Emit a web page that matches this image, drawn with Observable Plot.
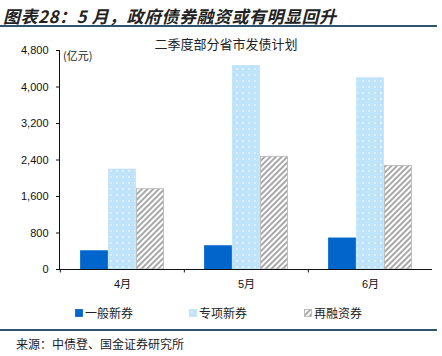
<!DOCTYPE html>
<html>
<head>
<meta charset="utf-8">
<script src="https://cdn.jsdelivr.net/npm/d3@7"></script>
<script src="https://cdn.jsdelivr.net/npm/@observablehq/plot@0.6"></script>
<style>
  html, body { margin: 0; padding: 0; background: #fff; }
  #wrap { position: relative; width: 442px; height: 356px; overflow: hidden; font-family: "Liberation Sans", "Noto Sans CJK SC", sans-serif; }
  .abs { position: absolute; white-space: nowrap; }
  #title { left: 3px; top: 3px; font-size: 17px; font-weight: bold; font-style: italic; color: #222; font-family: "Noto Sans CJK SC", sans-serif; letter-spacing: 0.5px; }
  #line1 { left: 0; top: 25px; width: 437px; height: 2px; background: #2f5470; }
  #subtitle { left: 226px; top: 34px; transform: translateX(-50%); font-size: 13px; color: #222; font-family: "Noto Sans CJK SC", sans-serif; }
  #unit { left: 63px; top: 47px; font-size: 11px; color: #222; font-family: "Noto Sans CJK SC", sans-serif; }
  #chart { left: 0; top: 30px; }
  .leg { top: 304px; font-size: 12px; color: #222; font-family: "Noto Sans CJK SC", sans-serif; display: flex; align-items: center; }
  .leg svg { margin-right: 2px; }
  #line2 { left: 0; top: 329px; width: 437px; height: 2px; background: #2f5470; }
  #source { left: 16px; top: 335px; font-size: 12px; color: #222; font-family: "Noto Sans CJK SC", sans-serif; }
</style>
</head>
<body>
<svg width="0" height="0" style="position:absolute">
  <defs>
    <pattern id="dots" width="6" height="6" patternUnits="userSpaceOnUse">
      <rect width="6" height="6" fill="#bfe3f8"></rect>
      <circle cx="3" cy="3" r="0.8" fill="#ffffff"></circle>
    </pattern>
    <pattern id="hatch" width="4" height="4" patternUnits="userSpaceOnUse" patternTransform="rotate(45)">
      <rect width="4" height="4" fill="#ffffff"></rect>
      <rect width="2" height="4" fill="#a8a8a8"></rect>
    </pattern>
  </defs>
</svg>
<div id="wrap">
  <div id="title" class="abs">图表28：5 月，政府债券融资或有明显回升</div>
  <div id="line1" class="abs"></div>
  <div id="subtitle" class="abs">二季度部分省市发债计划</div>
  <div id="chart" class="abs"></div>
  <div id="unit" class="abs">(亿元)</div>
  <div id="leg0" class="abs leg" style="left:75px"></div>
  <div id="leg1" class="abs leg" style="left:189px"></div>
  <div id="leg2" class="abs leg" style="left:304px"></div>
  <div id="line2" class="abs"></div>
  <div id="source" class="abs">来源：中债登、国金证券研究所</div>
</div>
<script>
const months = ["4月", "5月", "6月"];
const seriesNames = ["一般新券", "专项新券", "再融资券"];
const generalNew = [400, 510, 680];
const specialNew = [2190, 4460, 4190];
const refinancing = [1760, 2470, 2270];
const yTicks = [0, 800, 1600, 2400, 3200, 4000, 4800];

const seriesValues = [generalNew, specialNew, refinancing];
const fills = ["#0066cc", "url(#dots)", "url(#hatch)"];
const strokes = ["#0066cc", "#bfe3f8", "#b4b4b4"];

const W = 442, H = 269, ML = 59, MR = 10, MT = 20, MB = 30;
const bw = (W - ML - MR) / months.length;
const barW = 28;
const inset = (bw - barW) / 2;

const marks = [];
seriesValues.forEach((vals, si) => {
  const data = months.map((m, i) => ({month: m, value: vals[i], series: seriesNames[si]}));
  marks.push(Plot.barY(data, {
    x: "month", y: "value",
    fill: fills[si], stroke: strokes[si], strokeWidth: 0.8,
    insetLeft: inset + 0.4, insetRight: inset + 0.4,
    dx: (si - 1) * barW
  }));
});
marks.push(Plot.ruleY([0], {stroke: "#111", strokeWidth: 1}));
marks.push(Plot.ruleX(months, {x: d => d, y1: 0, y2: -75, dx: -bw / 2, stroke: "#111"}));

const chart = Plot.plot({
  width: W, height: H,
  marginLeft: ML, marginRight: MR, marginTop: MT, marginBottom: MB,
  style: {fontFamily: "'Liberation Sans', 'Noto Sans CJK SC', sans-serif", fontSize: "11px", color: "#111", background: "transparent"},
  x: {domain: months, padding: 0, tickSize: 0, tickPadding: 11, label: null},
  y: {domain: [0, 4800], ticks: yTicks, tickFormat: d3.format(","), tickSize: 3, tickPadding: 8, label: null, line: true},
  marks
});
document.getElementById("chart").appendChild(chart);

seriesNames.forEach((name, i) => {
  const el = document.getElementById("leg" + i);
  el.innerHTML = `<svg width="8" height="8"><rect x="0.5" y="0.5" width="7" height="7" fill="${fills[i]}" stroke="${strokes[i]}" stroke-width="0.8"></rect></svg><span>${name}</span>`;
});
</script>
</body>
</html>
